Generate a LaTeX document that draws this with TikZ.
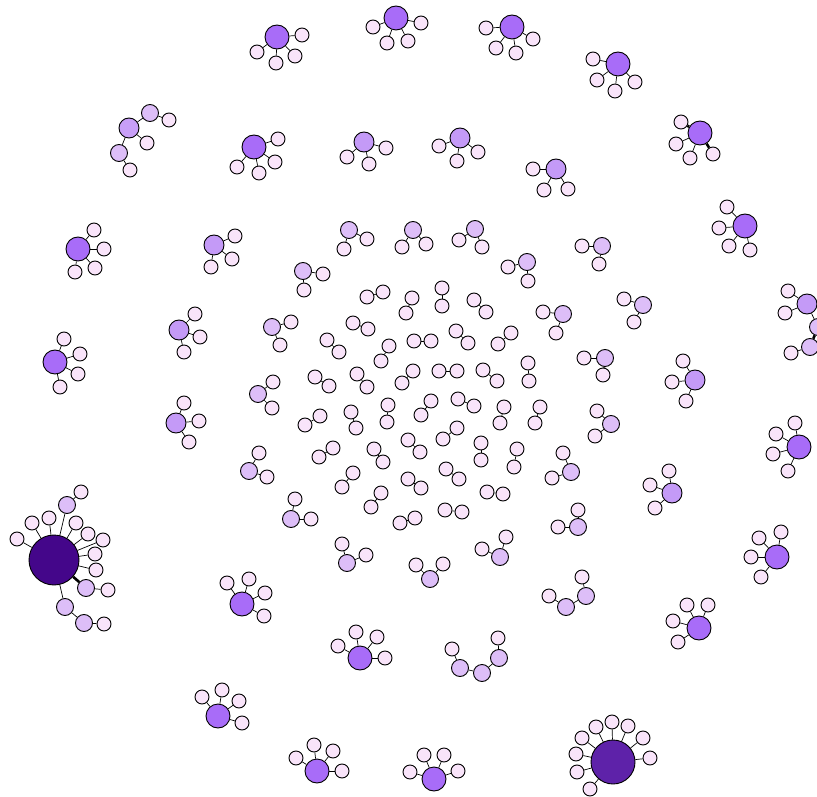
\documentclass[tikz,border=0pt]{standalone}
\usepackage{xcolor}
\usepackage{tikz}
\usetikzlibrary{positioning}

\definecolor{leafc}{HTML}{F9E4FA}
\definecolor{litec}{HTML}{DDBEF8}
\definecolor{midc}{HTML}{C49AF7}
\definecolor{hubc}{HTML}{A86CF8}
\definecolor{bigb}{HTML}{5E22A9}
\definecolor{biga}{HTML}{44068A}

\tikzset{
  vert/.style={circle, draw=black, line width=0.9pt, inner sep=0pt},
  leaf/.style={vert, fill=leafc, minimum size=14pt},
  lite/.style={vert, fill=litec, minimum size=17pt},
  mid/.style={vert, fill=midc, minimum size=20pt},
  hub/.style={vert, fill=hubc, minimum size=24pt},
  conn/.style={draw=black, line width=0.7pt},
  heavy/.style={draw=black, line width=2.6pt},
}

% hub with its leaves: name, style, position, list of leaf positions
\newcommand{\starnode}[4]{%
  \node[#2] (#1) at (#3) {};
  \foreach \lx/\ly [count=\li] in {#4} {
    \node[leaf] (#1-\li) at (\lx,\ly) {};
    \path[conn] (#1) edge (#1-\li);
  }
}

\begin{document}
\begin{tikzpicture}[x=1pt, y=-1pt]
  \useasboundingbox (0,0) rectangle (817,797);

  % outer ring of hubs
  \starnode{t1}{hub}{277,37}{302/35, 257/52, 276/63, 295/56}
  \starnode{t2}{hub}{396,18}{373/27, 387/43, 408/41, 421/23}
  \starnode{t3}{hub}{512,27}{486/28, 496/48, 516/53, 533/39}
  \starnode{t4}{hub}{618,64}{593/59, 597/80, 615/91, 635/82}
  \starnode{t5}{hub}{254,147}{278/139, 275/162, 259/173, 237/167}
  \starnode{t7}{hub}{745,226}{727/207, 719/228, 729/246, 750/250}
  \starnode{t8}{hub}{78,249}{94/230, 104/249, 95/268, 75/272}
  \starnode{t9}{hub}{55,362}{64/339, 80/354, 78/374, 60/387}
  \starnode{t10}{hub}{799,447}{795/423, 776/434, 773/454, 788/471}
  \starnode{t11}{hub}{777,557}{759/538, 781/532, 751/557, 761/577}
  \starnode{t12}{hub}{699,628}{687/605, 708/605, 673/621, 678/642}
  \starnode{t13}{hub}{434,779}{410/772, 424/755, 444/755, 458/771}
  \starnode{t14}{hub}{317,771}{296/758, 314/745, 333/751, 342/771}
  \starnode{t15}{hub}{218,716}{202/697, 222/690, 239/701, 242/723}
  \starnode{t16}{hub}{360,658}{338/646, 356/632, 377/637, 385/658}
  \starnode{t17}{hub}{242,604}{227/583, 249/579, 265/593, 264/616}

  % hub with two heavy links
  \node[hub] (t6) at (700,133) {};
  \node[leaf] (t6-1) at (681,122) {};
  \node[leaf] (t6-2) at (676,144) {};
  \node[leaf] (t6-3) at (690,158) {};
  \node[leaf] (t6-4) at (713,154) {};
  \path (t6) edge[heavy] (t6-1) edge[conn] (t6-2) edge[conn] (t6-3) edge[heavy] (t6-4);

  % middle ring
  \starnode{m1}{mid}{364,142}{386/148, 369/164, 347/157}
  \starnode{m2}{mid}{460,138}{439/146, 457/161, 478/152}
  \starnode{m3}{mid}{556,169}{533/169, 544/190, 568/189}
  \starnode{m4}{mid}{214,245}{235/236, 232/259, 211/267}
  \starnode{m5}{mid}{179,330}{195/314, 200/337, 184/352}
  \starnode{m6}{mid}{176,423}{184/403, 199/421, 189/442}
  \starnode{m7}{mid}{695,380}{683/361, 672/382, 686/401}
  \starnode{m8}{mid}{672,493}{669/471, 650/485, 655/508}

  % right edge chain
  \starnode{m9}{mid}{807,304}{788/291, 785/313}
  \node[lite] (m9a) at (818,327) {};
  \node[lite] (m9b) at (810,347) {};
  \node[leaf] (m9c) at (791,353) {};
  \path (m9) edge[conn] (m9a) (m9a) edge[heavy] (m9b) (m9b) edge[conn] (m9c);

  % upper left branch
  \node[mid, fill=midc!85!litec] (m10) at (129,128) {};
  \node[lite] (m10a) at (150,113) {};
  \node[leaf] (m10b) at (169,120) {};
  \node[leaf] (m10c) at (147,143) {};
  \node[lite] (m10d) at (119,153) {};
  \node[leaf] (m10e) at (130,170) {};
  \path[conn] (m10) edge (m10a) (m10a) edge (m10b) (m10) edge (m10c)
    (m10) edge (m10d) (m10d) edge (m10e);

  % small light stars
  \starnode{l1}{lite}{349,230}{367/239, 344/249}
  \starnode{l2}{lite}{413,230}{426/244, 402/247}
  \starnode{l3}{lite}{475,229}{459/240, 482/247}
  \starnode{l4}{lite}{527,262}{508/267, 528/281}
  \starnode{l5}{lite}{602,246}{582/246, 599/264}
  \starnode{l6}{lite}{303,271}{323/274, 304/290}
  \starnode{l7}{lite}{272,327}{291/322, 280/345}
  \starnode{l8}{lite}{258,394}{273/382, 272/408}
  \starnode{l9}{lite}{249,471}{259/453, 267/477}
  \starnode{l10}{lite}{291,519}{295/499, 311/519}
  \starnode{l11}{lite}{347,563}{342/544, 366/555}
  \starnode{l12}{lite}{430,579}{416/565, 443/564}
  \starnode{l13}{lite}{500,557}{482/549, 506/537}
  \starnode{l14}{lite}{578,527}{578/510, 558/527}
  \starnode{l15}{lite}{571,472}{563/453, 552/478}
  \starnode{l16}{lite}{611,424}{597/411, 595/436}
  \starnode{l18}{lite}{563,314}{543/312, 556/333}
  \starnode{l19}{lite}{643,305}{624/299, 634/322}
  \node[lite] (l17) at (605,358) {};
  \node[leaf] (l17-1) at (584,358) {};
  \node[leaf] (l17-2) at (603,375) {};
  \path (l17) edge[conn] (l17-1) edge[heavy] (l17-2);

  % chains
  \node[leaf] (c1a) at (549,596) {};
  \node[lite] (c1b) at (566,607) {};
  \node[lite] (c1c) at (586,596) {};
  \node[leaf] (c1d) at (582,577) {};
  \path[conn] (c1a) edge (c1b) (c1b) edge (c1c) (c1c) edge (c1d);

  \node[leaf] (c2a) at (452,649) {};
  \node[lite] (c2b) at (460,668) {};
  \node[lite] (c2c) at (482,673) {};
  \node[lite] (c2d) at (499,658) {};
  \node[leaf] (c2e) at (498,638) {};
  \path[conn] (c2a) edge (c2b) (c2b) edge (c2c) (c2c) edge (c2d) (c2d) edge (c2e);

  % leaf pairs in the centre
  \foreach \ax/\ay/\bx/\by [count=\i] in {
      367/297/383/292, 412/298/406/313, 442/288/442/306, 474/300/486/312,
      353/323/368/329, 327/340/339/352, 389/346/381/361, 414/341/431/341,
      456/331/468/343, 511/333/498/344, 315/377/329/386, 357/374/367/387,
      413/371/402/383, 439/371/457/371, 483/370/497/381, 528/363/529/381,
      431/401/421/415, 458/399/474/406, 504/407/500/423, 540/407/535/423,
      305/425/320/416, 351/412/356/428, 388/405/387/422, 408/440/420/452,
      457/428/443/439, 481/443/481/460, 517/449/514/467, 319/457/333/448,
      374/449/383/462, 342/487/353/473, 371/507/381/493, 408/479/421/488,
      446/469/459/479, 487/492/503/494, 445/510/462/512, 415/518/400/523} {
    \node[leaf] (p\i a) at (\ax,\ay) {};
    \node[leaf] (p\i b) at (\bx,\by) {};
    \path[conn] (p\i a) edge (p\i b);
  }

  % big hub, left
  \starnode{ba}{vert, fill=biga, minimum size=50pt}{54,560}{17/539, 32/523, 49/518, 76/523, 88/534, 103/540, 95/554, 96/570}
  \node[lite] (ba-a) at (67,505) {};
  \node[leaf] (ba-b) at (81,492) {};
  \node[lite] (ba-c) at (86,588) {};
  \node[leaf] (ba-d) at (108,590) {};
  \node[lite] (ba-e) at (65,607) {};
  \node[lite] (ba-f) at (84,623) {};
  \node[leaf] (ba-g) at (104,624) {};
  \path (ba) edge[conn] (ba-a) (ba-a) edge[conn] (ba-b)
    (ba) edge[heavy] (ba-c) (ba-c) edge[conn] (ba-d)
    (ba) edge[conn] (ba-e) (ba-e) edge[conn] (ba-f) (ba-f) edge[conn] (ba-g);

  % big hub, bottom
  \starnode{bb}{vert, fill=bigb, minimum size=44pt}{613,762}{590/789, 577/772, 576/754, 582/738, 596/727, 612/722, 628/726, 643/738, 650/758}
\end{tikzpicture}
\end{document}
